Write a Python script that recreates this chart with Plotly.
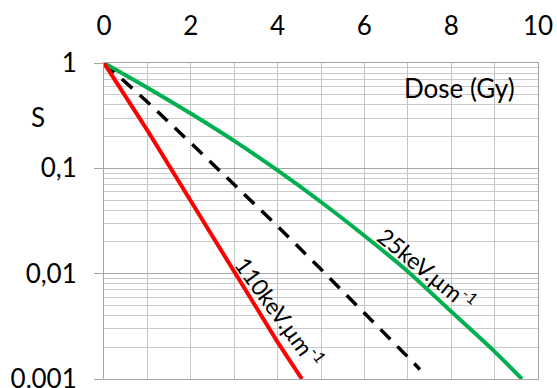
import plotly.graph_objects as go

# Dose (Gy) and survival S
dose_25kev = [0, 1, 2, 3, 4, 5, 6, 7, 8, 9, 9.63]
s_25kev = [1, 0.582, 0.331, 0.182, 0.0955, 0.0479, 0.0229, 0.0105, 0.00437, 0.00182, 0.001]

dose_110kev = [0, 1, 2, 3, 4, 4.56]
s_110kev = [1, 0.229, 0.049, 0.0105, 0.00224, 0.001]

dose_ref = [0, 1, 2, 3, 4, 5, 6, 7, 7.28]
s_ref = [1, 0.427, 0.174, 0.0708, 0.0282, 0.011, 0.00427, 0.00162, 0.00123]

x_ticks = [0, 2, 4, 6, 8, 10]
y_ticks = [1, 0.1, 0.01, 0.001]
y_ticktext = ["1", "0,1", "0,01", "0,001"]
y_minor = [m * 10 ** e for e in (-3, -2, -1) for m in range(2, 10)]

FONT = "Lato"
FS = 26
fig = go.Figure()
fig.add_trace(go.Scatter(x=dose_ref, y=s_ref, mode="lines",
                         line=dict(color="black", width=3.5, dash="14px,10px")))
fig.add_trace(go.Scatter(x=dose_25kev, y=s_25kev, mode="lines",
                         line=dict(color="#00B050", width=4, shape="spline", smoothing=0.8)))
fig.add_trace(go.Scatter(x=dose_110kev, y=s_110kev, mode="lines",
                         line=dict(color="#FF0000", width=4)))

fig.update_layout(
    width=557, height=388,
    margin=dict(l=104, r=19, t=63, b=9),
    paper_bgcolor="white", plot_bgcolor="white",
    showlegend=False,
    font=dict(family=FONT, size=FS, color="black"),
    xaxis=dict(range=[0, 10], side="top", tickvals=x_ticks, ticks="",
               showgrid=True, gridcolor="#C4C4C4", gridwidth=1,
               minor=dict(dtick=1, showgrid=True, gridcolor="#C4C4C4", gridwidth=1),
               showline=True, linecolor="#A6A6A6", mirror=True,
               zeroline=False, ticklabelstandoff=17, automargin=False,
               ticklabeloverflow="allow",
               tickfont=dict(family=FONT, size=FS)),
    yaxis=dict(type="log", range=[-3, 0], tickvals=y_ticks, ticktext=y_ticktext,
               ticks="outside", ticklen=9, tickcolor="#A6A6A6",
               showgrid=True, gridcolor="#A6A6A6", gridwidth=1,
               minor=dict(tickvals=y_minor, showgrid=True, gridcolor="#C9C9C9", gridwidth=1, ticks=""),
               showline=True, linecolor="#A6A6A6", mirror=True,
               zeroline=False, ticklabelstandoff=12, automargin=False,
               ticklabeloverflow="allow",
               tickfont=dict(family=FONT, size=FS)),
)

fig.add_annotation(xref="paper", yref="paper", x=-0.153, y=0.83, text="S",
                   showarrow=False, font=dict(family=FONT, size=FS), xanchor="center", yanchor="middle")
fig.add_annotation(xref="x", yref="paper", x=8.2, y=0.92, text="Dose (Gy)",
                   showarrow=False, font=dict(family=FONT, size=FS), xanchor="center", yanchor="middle")
fig.add_annotation(xref="x", yref="y", x=4.05, y=-2.36, text="110keV.µm<sup>-1</sup>",
                   showarrow=False, textangle=54, font=dict(family=FONT, size=23))
fig.add_annotation(xref="x", yref="y", x=7.45, y=-1.95, text="25keV.µm<sup>-1</sup>",
                   showarrow=False, textangle=39, font=dict(family=FONT, size=23))

fig.write_html("out.html", config={"displayModeBar": False},
               post_script="document.body.style.margin='0';document.body.style.overflow='hidden';")
